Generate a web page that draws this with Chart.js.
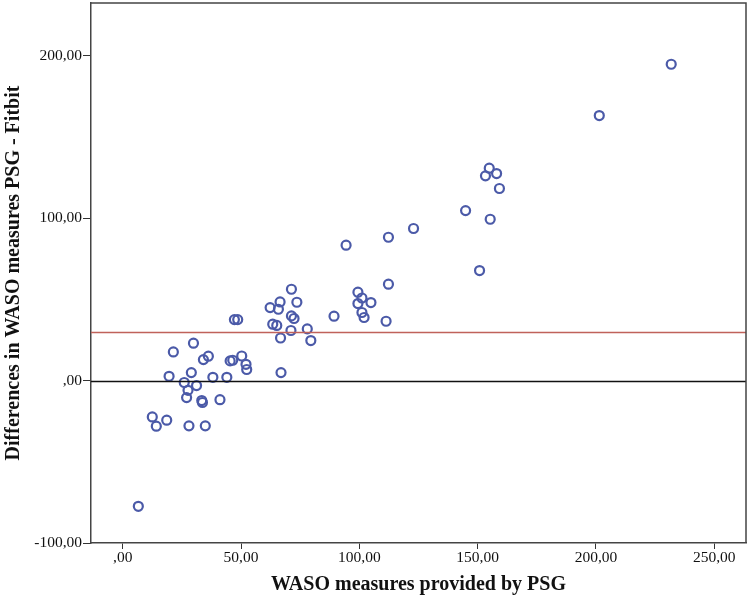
<!DOCTYPE html>
<html>
<head>
<meta charset="utf-8">
<script src="https://cdn.jsdelivr.net/npm/chart.js@4/dist/chart.umd.min.js"></script>
<style>
  html, body { margin: 0; padding: 0; background: #fff; }
  #wrap { width: 749px; height: 599px; }
</style>
</head>
<body>
<div id="wrap"><canvas id="myChart" width="749" height="599"></canvas></div>
<script>
// WASO measured by PSG (x) vs difference PSG - Fitbit (y)
const psgWaso = [6.6, 12.5, 14.2, 18.6, 19.6, 21.4, 26, 27, 27.6, 28, 29, 29.9, 31.2, 33.4, 33.7, 34.1,
  34.9, 36.2, 38.1, 41.1, 44, 45.4, 46.5, 47.2, 48.6, 50.3, 52.1, 52.4, 62.3, 63.4, 65.1, 65.8,
  66.5, 66.7, 66.9, 71.1, 71.3, 71.3, 72.4, 73.6, 78, 79.5, 89.3, 94.4, 99.4, 99.4, 101.1, 101.1,
  102, 104.9, 111.3, 112.3, 112.3, 122.9, 144.9, 150.8, 153.3, 154.9, 155.3, 158, 159.2, 201.4, 231.8];
const diffWaso = [-77.4, -22.4, -28.1, -24.4, 2.6, 17.6, -1.2, -10.5, -6, -27.9, 4.9, 23, -3.1, -12.3, -13.5, 12.9,
  -27.9, 15, 2, -11.8, 2, 12.1, 12.5, 37.5, 37.5, 15.1, 10, 6.8, 44.9, 34.7, 33.9, 43.9,
  48.4, 26.2, 4.9, 30.8, 56.2, 39.8, 38.2, 48.2, 31.8, 24.6, 39.6, 83.3, 54.4, 47.4, 50.8, 41.9,
  38.8, 48, 36.5, 59.3, 88.2, 93.6, 104.6, 67.7, 126, 130.7, 99.3, 127.4, 118.2, 163.1, 194.7];

const meanDiff = 30;
const zeroLine = 0;

const xTicks = [0, 50, 100, 150, 200, 250];
const xTickLabels = [",00", "50,00", "100,00", "150,00", "200,00", "250,00"];
const yTicks = [-100, 0, 100, 200];
const yTickLabels = ["-100,00", ",00", "100,00", "200,00"];

const points = psgWaso.map((x, i) => ({ x: x, y: diffWaso[i] }));

// frame + reference lines
const refLines = {
  id: "refLines",
  afterDatasetsDraw(chart) {
    const { ctx, chartArea: a, scales } = chart;
    ctx.save();
    const drawH = (v, color) => {
      const y = Math.round(scales.y.getPixelForValue(v)) + 0.5;
      ctx.strokeStyle = color;
      ctx.lineWidth = 1.3;
      ctx.beginPath();
      ctx.moveTo(a.left, y);
      ctx.lineTo(a.right, y);
      ctx.stroke();
    };
    drawH(meanDiff, "#c0625a");
    drawH(zeroLine, "#111");
    ctx.strokeStyle = "#444";
    ctx.lineWidth = 1.5;
    ctx.beginPath();
    ctx.moveTo(a.left, a.top);
    ctx.lineTo(a.right, a.top);
    ctx.lineTo(a.right, a.bottom);
    ctx.stroke();
    ctx.restore();
  }
};

const tickFont = { family: "'Liberation Serif', serif", size: 15.5 };
const titleFont = { family: "'Liberation Serif', serif", size: 20, weight: "bold" };

new Chart(document.getElementById("myChart").getContext("2d"), {
  type: "scatter",
  data: {
    datasets: [{
      data: points,
      pointRadius: 4.5,
      pointHoverRadius: 4.5,
      pointBorderWidth: 2.2,
      borderColor: "#4b5aa8",
      backgroundColor: "rgba(0,0,0,0)"
    }]
  },
  options: {
    responsive: false,
    animation: false,
    layout: { autoPadding: false, padding: { top: 3, right: 3, left: 0, bottom: 0 } },
    plugins: { legend: { display: false }, tooltip: { enabled: false } },
    scales: {
      x: {
        type: "linear",
        min: -13.4,
        max: 263.4,
        afterBuildTicks: (s) => { s.ticks = xTicks.map(v => ({ value: v })); },
        afterFit: (s) => { s.height = 56; s.paddingLeft = 0; s.paddingRight = 0; },
        ticks: {
          color: "#111",
          font: tickFont,
          padding: 0,
          autoSkip: false,
          maxRotation: 0,
          callback: (v) => xTickLabels[xTicks.indexOf(v)]
        },
        grid: { drawOnChartArea: false, drawTicks: true, tickLength: 6, color: "#333" },
        border: { display: true, color: "#444", width: 1.5 },
        title: { display: true, text: "WASO measures provided by PSG", color: "#111", font: titleFont, padding: { top: 0, bottom: 2 } }
      },
      y: {
        type: "linear",
        min: -100,
        max: 232.4,
        afterBuildTicks: (s) => { s.ticks = yTicks.map(v => ({ value: v })); },
        afterFit: (s) => { s.width = 91; s.paddingTop = 0; s.paddingBottom = 0; },
        ticks: {
          color: "#111",
          font: tickFont,
          padding: 1,
          autoSkip: false,
          callback: (v) => yTickLabels[yTicks.indexOf(v)]
        },
        grid: { drawOnChartArea: false, drawTicks: true, tickLength: 8, color: "#333" },
        border: { display: true, color: "#444", width: 1.5 },
        title: { display: true, text: "Differences in WASO measures PSG - Fitbit", color: "#111", font: titleFont, padding: { top: 2, bottom: 0 } }
      }
    }
  },
  plugins: [refLines]
});
</script>
</body>
</html>
